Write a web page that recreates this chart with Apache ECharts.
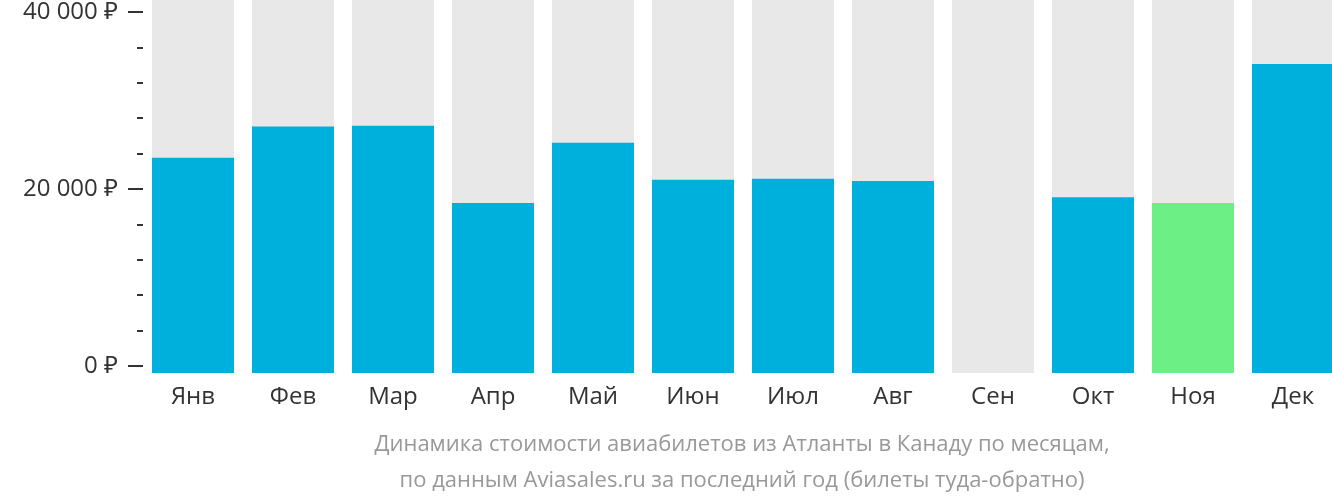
<!DOCTYPE html>
<html>
<head>
<meta charset="utf-8">
<script src="https://cdn.jsdelivr.net/npm/echarts@6/dist/echarts.min.js"></script>
<style>html,body{margin:0;padding:0;background:#fff;overflow:hidden}#chart{width:1343px;height:502px}</style>
</head>
<body>
<div id="chart"></div>
<script>
// данные
var months = ["Янв", "Фев", "Мар", "Апр", "Май", "Июн", "Июл", "Авг", "Сен", "Окт", "Ноя", "Дек"];
var prices = [23300, 26800, 26900, 18250, 25000, 20850, 20950, 20700, 0, 18900, 18250, 33800];
var cheapest = 10; // Ноя
var yTicks = [0, 20000, 40000];

var chart = echarts.init(document.getElementById("chart"));
var font = "'Open Sans', 'Noto Sans', sans-serif";
var below = 784; // столбики уходят чуть ниже нулевой отметки

function colorOf(i) { return i == cheapest ? "#6cef85" : "#00b0dc"; }

var option = {
    animation: false,
    grid: [
        { left: 143, right: 0, top: 0, bottom: 129 },
        { left: 143, right: 0, top: 9, bottom: 136 }
    ],
    xAxis: [{
        type: "category",
        data: months,
        axisLine: { show: false },
        axisTick: { show: false },
        axisLabel: { color: "#333", fontSize: 24, fontFamily: font, margin: 12 }
    }, {
        type: "category", gridIndex: 1, data: months, show: false
    }],
    yAxis: [{
        type: "value",
        min: -below,
        max: 40974,
        show: false
    }, {
        type: "value",
        gridIndex: 1,
        min: 0,
        max: 40000,
        interval: 20000,
        splitLine: { show: false },
        axisLine: { show: false },
        axisTick: { show: true, length: 15, lineStyle: { color: "#333", width: 2 } },
        minorTick: { show: true, splitNumber: 5, length: 6, lineStyle: { color: "#333", width: 2 } },
        axisLabel: {
            color: "#333", fontSize: 24, fontFamily: font, margin: 25,
            formatter: function (v) {
                if (yTicks.indexOf(v) == -1) return "";
                return String(v).replace(/\B(?=(\d{3})+(?!\d))/g, " ") + " ₽";
            }
        }
    }],
    series: [{
        type: "bar",
        stack: "p",
        barWidth: 82,
        showBackground: true,
        backgroundStyle: { color: "#e8e8e8" },
        data: prices.map(function (v, i) {
            return { value: v, itemStyle: { color: colorOf(i) } };
        })
    }, {
        type: "bar",
        stack: "p",
        barWidth: 82,
        data: prices.map(function (v, i) {
            return { value: v > 0 ? -below : 0, itemStyle: { color: colorOf(i) } };
        })
    }],
    graphic: [{
        type: "text",
        x: 742,
        y: 427,
        style: {
            text: "Динамика стоимости авиабилетов из Атланты в Канаду по месяцам,\nпо данным Aviasales.ru за последний год (билеты туда-обратно)",
            fill: "#999",
            font: "22px " + font,
            lineHeight: 36,
            align: "center"
        }
    }]
};
chart.setOption(option);
</script>
</body>
</html>
